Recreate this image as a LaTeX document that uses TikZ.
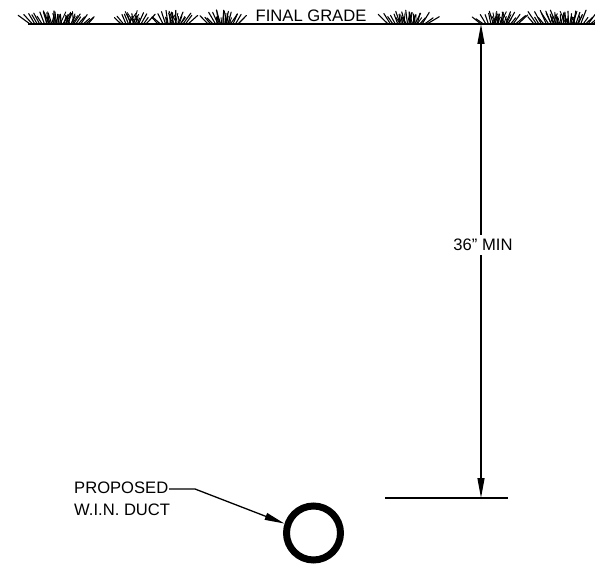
\documentclass[tikz,border=0pt]{standalone}
\usepackage{fontspec}
\setmainfont{Liberation Sans}
\usetikzlibrary{arrows.meta}
\tikzset{
  grass/.style={line width=1.1pt, line cap=round},
  dimline/.style={line width=1.3pt},
  dimtip/.style={-{Triangle[length=20pt,width=7pt]}},
  lbl/.style={font=\fontsize{16.6}{22}\selectfont, inner sep=0pt},
}
\newcommand{\grasstuft}[2]{%
  \pgfmathsetmacro{\tw}{#2-#1}%
  \pgfmathtruncatemacro{\tn}{\tw/2.4}%
  \foreach \k in {0,...,\tn}{%
    \pgfmathsetmacro{\bx}{#1+\k*\tw/\tn}%
    \pgfmathsetmacro{\ang}{140-100*\k/\tn+24*(rnd-0.5)}%
    \pgfmathsetmacro{\len}{8+7*rnd}%
    \draw[grass] (\bx,24) -- ++(-\ang:\len);
  }%
  \foreach \k in {1,...,\tn}{%
    \pgfmathsetmacro{\bx}{#1+0.25*\tw+0.5*\k*\tw/\tn}%
    \pgfmathsetmacro{\ang}{90+70*(rnd-0.5)}%
    \pgfmathsetmacro{\len}{6+8*rnd}%
    \draw[grass,line width=0.9pt] (\bx,24) -- ++(-\ang:\len);
  }%
}
\begin{document}
\begin{tikzpicture}[x=1pt,y=-1pt]
\useasboundingbox (0,0) rectangle (595,564);
\pgfmathsetseed{11}
% grade line
\coordinate (gl) at (28,24);
\coordinate (gr) at (595,24);
\draw[line width=1.3pt] (gl) -- (gr);
\grasstuft{30}{88}
\grasstuft{121}{146}
\grasstuft{158}{188}
\grasstuft{208}{238}
\grasstuft{388}{427}
\grasstuft{481}{518}
\grasstuft{534}{593}
\node[lbl, anchor=base west] (fg) at (255.5,22) {FINAL GRADE};
% dimension
\coordinate (dtop) at (481,24);
\coordinate (dbot) at (481,498);
\coordinate (bl) at (385,498);
\coordinate (br) at (508,498);
\draw[line width=1.3pt] (bl) -- (br);
\node[lbl, fill=white, inner xsep=1pt, inner ysep=4pt] (dim) at (483,245) {36" MIN};
\draw[dimline, dimtip] (dim.north -| dtop) -- (dtop);
\draw[dimline, dimtip] (dim.south -| dbot) -- (dbot);
% duct
\node[circle, draw, line width=7pt, minimum size=54pt, inner sep=0pt] (duct) at (313.5,533) {};
\node[lbl, anchor=north west, align=left] (lab) at (74,482) {PROPOSED\\W.I.N. DUCT};
\coordinate (kn) at (195,489);
\draw[dimline, dimtip] (169,489) -- (kn) -- (duct.162);
\end{tikzpicture}
\end{document}
